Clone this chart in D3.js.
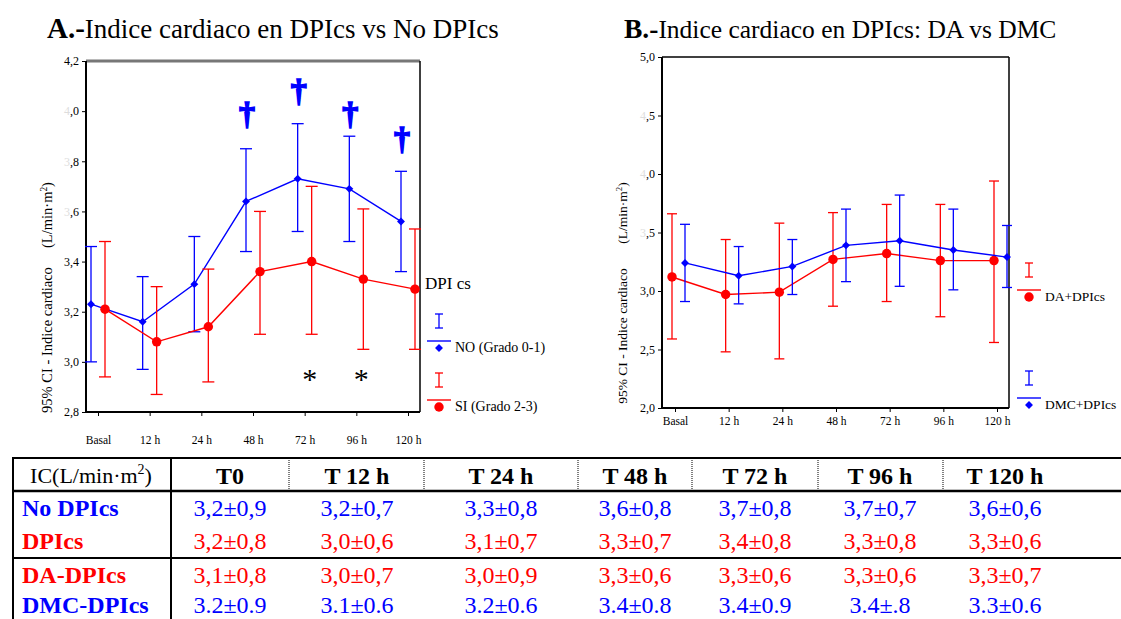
<!DOCTYPE html>
<html>
<head>
<meta charset="utf-8">
<script src="https://cdn.jsdelivr.net/npm/d3@7"></script>
<style>
  body { margin: 0; background: #fff; }
  svg text { font-family: "Liberation Serif", "DejaVu Serif", serif; }
</style>
</head>
<body>
<div id="container"></div>
<script>
const width = 1121, height = 619;
const SERIF = "Liberation Serif";

// time points (x axis)
const timeLabels = ["Basal", "12 h", "24 h", "48 h", "72 h", "96 h", "120 h"];

// A: No DPIcs (Grado 0-1) - mean and 95% CI
const noMean = [3.23, 3.16, 3.31, 3.64, 3.73, 3.69, 3.56];
const noLow  = [3.00, 2.97, 3.12, 3.44, 3.52, 3.48, 3.36];
const noHigh = [3.46, 3.34, 3.50, 3.85, 3.95, 3.90, 3.76];

// A: DPIcs (Grado 2-3)
const siMean = [3.21, 3.08, 3.14, 3.36, 3.40, 3.33, 3.29];
const siLow  = [2.94, 2.87, 2.92, 3.11, 3.11, 3.05, 3.05];
const siHigh = [3.48, 3.30, 3.37, 3.60, 3.70, 3.61, 3.53];

// A: significance marks
const daggerTimes = ["48 h", "72 h", "96 h", "120 h"];
const daggerVals  = [3.95, 4.04, 3.95, 3.85];
const starTimes = ["72 h", "96 h"];
const starVals  = [2.89, 2.89];

// B: DA+DPIcs
const daMean = [3.12, 2.97, 2.99, 3.27, 3.32, 3.26, 3.26];
const daLow  = [2.59, 2.48, 2.42, 2.87, 2.91, 2.78, 2.56];
const daHigh = [3.66, 3.44, 3.58, 3.67, 3.74, 3.74, 3.94];

// B: DMC+DPIcs
const dmcMean = [3.24, 3.13, 3.21, 3.39, 3.43, 3.35, 3.29];
const dmcLow  = [2.91, 2.89, 2.97, 3.08, 3.04, 3.01, 3.03];
const dmcHigh = [3.57, 3.38, 3.44, 3.70, 3.82, 3.70, 3.56];

// y ticks
const ticksA = [2.8, 3.0, 3.2, 3.4, 3.6, 3.8, 4.0, 4.2];
const fadedA = [3.6, 3.8, 4.0];
const ticksB = [2.0, 2.5, 3.0, 3.5, 4.0, 4.5, 5.0];
const fadedB = [3.5, 4.0, 4.5];

// table
const tableHead = ["T0", "T 12 h", "T 24 h", "T 48 h", "T 72 h", "T 96 h", "T 120 h"];
const rowLabels = ["No DPIcs", "DPIcs", "DA-DPIcs", "DMC-DPIcs"];
const rowNo  = ["3,2±0,9", "3,2±0,7", "3,3±0,8", "3,6±0,8", "3,7±0,8", "3,7±0,7", "3,6±0,6"];
const rowSi  = ["3,2±0,8", "3,0±0,6", "3,1±0,7", "3,3±0,7", "3,4±0,8", "3,3±0,8", "3,3±0,6"];
const rowDa  = ["3,1±0,8", "3,0±0,7", "3,0±0,9", "3,3±0,6", "3,3±0,6", "3,3±0,6", "3,3±0,7"];
const rowDmc = ["3.2±0.9", "3.1±0.6", "3.2±0.6", "3.4±0.8", "3.4±0.9", "3.4±.8", "3.3±0.6"];

const BLUE = "#0000ff", RED = "#ff0000";
const comma = d => d3.format(".1f")(d).replace(".", ",");

const svg = d3.select("#container")
  .append("svg")
  .attr("width", width)
  .attr("height", height)
  .attr("font-family", SERIF);

function drawPanel(p) {
  const g = svg.append("g");
  const x = d3.scalePoint().domain(timeLabels).range([p.x0, p.x1]);
  const y = d3.scaleLinear().domain(p.domain).range([p.bottom, p.top]);

  // y axis
  const yAxis = g.append("g")
    .attr("transform", `translate(${p.left},0)`)
    .call(d3.axisLeft(y).tickValues(p.ticks).tickFormat(comma).tickSize(4).tickSizeOuter(0))
    .attr("font-family", SERIF);
  yAxis.select(".domain").remove();
  yAxis.selectAll("line").attr("stroke", "#000");
  yAxis.selectAll("text")
    .attr("font-size", 12).attr("font-family", SERIF).attr("fill", "#000")
    .each(function(d) {
      if (p.faded.includes(d)) {
        const s = comma(d);
        const t = d3.select(this).text(null);
        t.append("tspan").attr("fill", "#ddd").text(s[0]);
        t.append("tspan").text(s.slice(1));
      }
    });

  // x axis
  const xAxis = g.append("g")
    .attr("transform", `translate(0,${p.bottom})`)
    .call(d3.axisBottom(x).tickSize(4).tickSizeOuter(0).tickPadding(p.xPad))
    .attr("font-family", SERIF);
  xAxis.select(".domain").remove();
  xAxis.selectAll("line").attr("stroke", "#000");
  xAxis.selectAll("text").attr("font-size", 11.5).attr("font-family", SERIF).attr("fill", "#000");

  // frame
  g.append("line").attr("x1", p.left).attr("x2", p.right).attr("y1", p.top).attr("y2", p.top)
    .attr("stroke", p.topColor).attr("stroke-width", p.topWidth);
  g.append("line").attr("x1", p.right).attr("x2", p.right).attr("y1", p.top).attr("y2", p.bottom)
    .attr("stroke", "#000").attr("stroke-width", 1.5);
  g.append("line").attr("x1", p.left).attr("x2", p.left).attr("y1", p.top).attr("y2", p.bottom)
    .attr("stroke", "#000").attr("stroke-width", 2);
  g.append("line").attr("x1", p.left).attr("x2", p.right).attr("y1", p.bottom).attr("y2", p.bottom)
    .attr("stroke", "#000").attr("stroke-width", 2);

  // series
  p.series.forEach(s => {
    const pts = timeLabels.map((t, i) => ({ t, m: s.mean[i], lo: s.low[i], hi: s.high[i] }));
    const px = d => x(d.t) + s.offset;

    const eb = g.append("g").attr("stroke", s.color).attr("stroke-width", 1.3);
    eb.selectAll(".v").data(pts).join("line")
      .attr("x1", px).attr("x2", px)
      .attr("y1", d => y(d.lo)).attr("y2", d => y(d.hi));
    eb.selectAll(".c1").data(pts).join("line")
      .attr("x1", d => px(d) - p.cap).attr("x2", d => px(d) + p.cap)
      .attr("y1", d => y(d.hi)).attr("y2", d => y(d.hi));
    eb.selectAll(".c2").data(pts).join("line")
      .attr("x1", d => px(d) - p.cap).attr("x2", d => px(d) + p.cap)
      .attr("y1", d => y(d.lo)).attr("y2", d => y(d.lo));

    g.append("path").datum(pts)
      .attr("fill", "none").attr("stroke", s.color).attr("stroke-width", 1.4)
      .attr("d", d3.line().x(px).y(d => y(d.m)));

    g.selectAll(null).data(pts).join("path")
      .attr("transform", d => `translate(${px(d)},${y(d.m)})`)
      .attr("fill", s.color)
      .attr("d", d3.symbol().type(s.marker === "diamond" ? d3.symbolDiamond2 : d3.symbolCircle)
        .size(s.marker === "diamond" ? 40 : 70));
  });

  // legend
  p.legend.forEach(l => {
    const lg = g.append("g").attr("transform", `translate(${l.x},${l.y})`);
    lg.append("line").attr("x1", 0).attr("x2", 0).attr("y1", 0).attr("y2", 14).attr("stroke", l.color).attr("stroke-width", 1.3);
    lg.append("line").attr("x1", -4).attr("x2", 4).attr("y1", 0).attr("y2", 0).attr("stroke", l.color).attr("stroke-width", 1.3);
    lg.append("line").attr("x1", -4).attr("x2", 4).attr("y1", 14).attr("y2", 14).attr("stroke", l.color).attr("stroke-width", 1.3);
    lg.append("line").attr("x1", -12).attr("x2", 12).attr("y1", 27).attr("y2", 27).attr("stroke", l.color).attr("stroke-width", 1.4);
    lg.append("path").attr("transform", "translate(0,34)").attr("fill", l.color)
      .attr("d", d3.symbol().type(l.marker === "diamond" ? d3.symbolDiamond2 : d3.symbolCircle)
        .size(l.marker === "diamond" ? 40 : 70));
    lg.append("text").attr("x", 16).attr("y", 38).attr("font-family", SERIF).attr("font-size", l.fs).text(l.label);
  });

  // axis title
  const ty = g.append("g").attr("font-family", SERIF);
  ty.append("text").attr("transform", `translate(${p.labX},${p.labY1}) rotate(-90)`)
    .attr("text-anchor", "middle").attr("font-size", p.labFs).text("95% CI - Indice cardiaco");
  const u = ty.append("text").attr("transform", `translate(${p.labX},${p.labY2}) rotate(-90)`)
    .attr("text-anchor", "middle").attr("font-size", p.labFs);
  u.append("tspan").text("(L/min·m");
  u.append("tspan").attr("dy", -5).attr("font-size", p.labFs * 0.65).text("2");
  u.append("tspan").attr("dy", 5).text(")");

  // title
  const tt = svg.append("text").attr("x", p.titleX).attr("y", 38)
    .attr("font-family", SERIF).attr("font-size", p.titleFs);
  tt.append("tspan").attr("font-weight", "bold").attr("font-size", p.titleFs + 2).text(p.titleBold);
  tt.append("tspan").text(p.title);

  return { g, x, y };
}

const A = drawPanel({
  left: 86, right: 420, top: 61, bottom: 412, x0: 98, x1: 408,
  domain: [2.8, 4.2], ticks: ticksA, faded: fadedA, xPad: 20,
  topColor: "#777", topWidth: 3, cap: 6,
  series: [
    { mean: noMean, low: noLow, high: noHigh, color: BLUE, marker: "diamond", offset: -7 },
    { mean: siMean, low: siLow, high: siHigh, color: RED, marker: "circle", offset: 7 }
  ],
  legend: [
    { x: 439, y: 314, color: BLUE, marker: "diamond", label: "NO (Grado 0-1)", fs: 14 },
    { x: 439, y: 373, color: RED, marker: "circle", label: "SI (Grado 2-3)", fs: 14 }
  ],
  labX: 52, labY1: 340, labY2: 215, labFs: 14.5,
  titleX: 47, titleFs: 27, titleBold: "A.-", title: "Indice cardiaco en DPIcs vs No DPIcs"
});

svg.append("text").attr("x", 425).attr("y", 289).attr("font-family", SERIF).attr("font-size", 17).text("DPI cs");

// daggers and asterisks on panel A
A.g.selectAll(".dag").data(daggerTimes).join("text")
  .attr("x", (d, i) => A.x(d) - 6)
  .attr("y", (d, i) => A.y(daggerVals[i]))
  .attr("text-anchor", "middle").attr("font-family", "DejaVu Sans").attr("font-size", 32)
  .attr("font-weight", "bold").attr("fill", BLUE)
  .attr("stroke", BLUE).attr("stroke-width", 1.6).text("†");
A.g.selectAll(".star").data(starTimes).join("text")
  .attr("x", (d, i) => A.x(d) + 5)
  .attr("y", (d, i) => A.y(starVals[i]))
  .attr("text-anchor", "middle").attr("font-family", SERIF).attr("font-size", 30).attr("fill", "#000").text("*");

drawPanel({
  left: 662, right: 1009, top: 57, bottom: 408, x0: 675, x1: 997,
  domain: [2.0, 5.0], ticks: ticksB, faded: fadedB, xPad: 5,
  topColor: "#000", topWidth: 1.5, cap: 5,
  series: [
    { mean: daMean, low: daLow, high: daHigh, color: RED, marker: "circle", offset: -3 },
    { mean: dmcMean, low: dmcLow, high: dmcHigh, color: BLUE, marker: "diamond", offset: 10 }
  ],
  legend: [
    { x: 1029, y: 263, color: RED, marker: "circle", label: "DA+DPIcs", fs: 13.5 },
    { x: 1029, y: 371, color: BLUE, marker: "diamond", label: "DMC+DPIcs", fs: 13.5 }
  ],
  labX: 627, labY1: 336, labY2: 213, labFs: 13.5,
  titleX: 624, titleFs: 25.5, titleBold: "B.-", title: "Indice cardiaco en DPIcs: DA vs DMC"
});

// table
const colBounds = [171, 289, 424, 578, 692, 818, 943];
const colCenters = [230, 357, 501, 635, 755, 880, 1005];
const rowBase = [516, 549, 583, 613];
const rowColors = [BLUE, RED, RED, BLUE];
const rowValues = [rowNo, rowSi, rowDa, rowDmc];

const tb = svg.append("g").attr("font-family", SERIF);
tb.append("line").attr("x1", 12).attr("x2", width).attr("y1", 458).attr("y2", 458).attr("stroke", "#000").attr("stroke-width", 2);
tb.append("line").attr("x1", 12).attr("x2", width).attr("y1", 491).attr("y2", 491).attr("stroke", "#000").attr("stroke-width", 2.5);
tb.append("line").attr("x1", 12).attr("x2", width).attr("y1", 558).attr("y2", 558).attr("stroke", "#000").attr("stroke-width", 2);
tb.append("line").attr("x1", 13).attr("x2", 13).attr("y1", 457).attr("y2", height).attr("stroke", "#000").attr("stroke-width", 2);
tb.append("line").attr("x1", 171).attr("x2", 171).attr("y1", 457).attr("y2", height).attr("stroke", "#000").attr("stroke-width", 2);
tb.selectAll(".sep").data(colBounds.slice(1)).join("line")
  .attr("x1", d => d).attr("x2", d => d).attr("y1", 460).attr("y2", 490)
  .attr("stroke", "#555").attr("stroke-width", 1.5).attr("stroke-dasharray", "1,1");

const hd = tb.append("text").attr("x", 91).attr("y", 483).attr("text-anchor", "middle")
  .attr("font-family", SERIF).attr("font-size", 22);
hd.append("tspan").text("IC(L/min·m");
hd.append("tspan").attr("dy", -9).attr("font-size", 14).text("2");
hd.append("tspan").attr("dy", 9).text(")");

tb.selectAll(".th").data(tableHead).join("text")
  .attr("x", (d, i) => colCenters[i]).attr("y", 484)
  .attr("text-anchor", "middle").attr("font-family", SERIF).attr("font-size", 24)
  .attr("font-weight", "bold").text(d => d);

rowLabels.forEach((lab, r) => {
  tb.append("text").attr("x", 22).attr("y", rowBase[r]).attr("font-family", SERIF).attr("font-size", 24)
    .attr("font-weight", "bold").attr("fill", rowColors[r]).text(lab);
  tb.selectAll(null).data(rowValues[r]).join("text")
    .attr("x", (d, i) => colCenters[i]).attr("y", rowBase[r])
    .attr("text-anchor", "middle").attr("font-family", SERIF).attr("font-size", 24)
    .attr("fill", rowColors[r]).text(d => d);
});
</script>
</body>
</html>
